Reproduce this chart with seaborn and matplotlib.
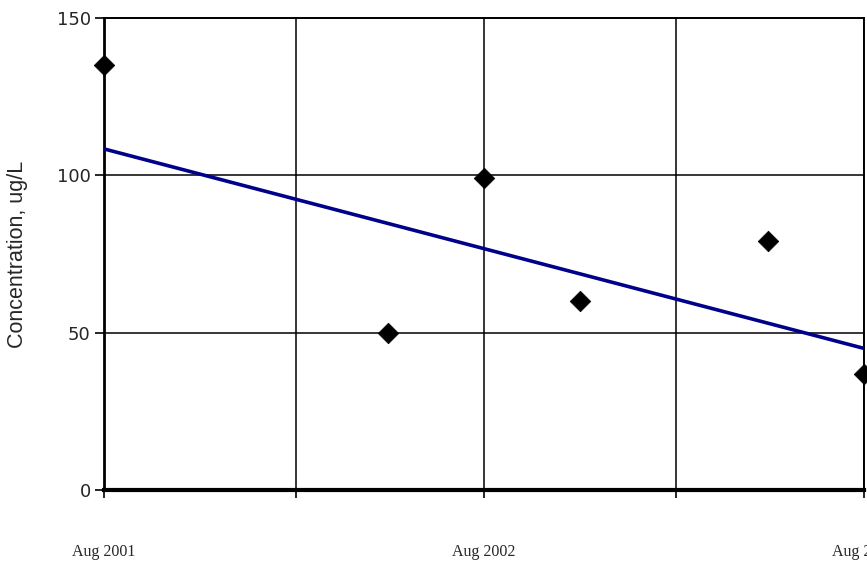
import matplotlib
matplotlib.use("Agg")
import matplotlib.pyplot as plt
import matplotlib.dates as mdates
import pandas as pd
import seaborn as sns

# Sample dates and measured concentrations (ug/L)
sample_dates = ["2001-08-01", "2002-05-01", "2002-08-01", "2002-11-01", "2003-05-01", "2003-08-01"]
concentration = [135, 50, 99, 60, 79, 37]

# Trend line end points
trend_dates = ["2001-08-01", "2003-08-01"]
trend_values = [108.4, 45.0]

# Axis ticks
x_ticks = ["2001-08-01", "2002-02-01", "2002-08-01", "2003-02-01", "2003-08-01"]
x_tick_labels = ["Aug 2001", "", "Aug 2002", "", "Aug 2003"]
y_ticks = [0, 50, 100, 150]

samples = pd.DataFrame({"date": pd.to_datetime(sample_dates), "conc": concentration})
trend = pd.DataFrame({"date": pd.to_datetime(trend_dates), "conc": trend_values})

sns.set_style("white")
fig = plt.figure(figsize=(8.67, 5.73), dpi=100)
ax = fig.add_axes([104 / 867, 1 - 490 / 573, 760 / 867, 472 / 573])

sns.lineplot(data=trend, x="date", y="conc", ax=ax, color="#00008B", linewidth=2.6, zorder=3)
sns.scatterplot(data=samples, x="date", y="conc", ax=ax, marker="D", s=110, color="black",
                edgecolor="black", linewidth=0.5, zorder=4, clip_on=False)

ax.set_xlim(pd.Timestamp(x_ticks[0]), pd.Timestamp(x_ticks[-1]))
ax.set_ylim(0, 150)
ax.set_xticks([mdates.date2num(pd.Timestamp(d)) for d in x_ticks])
ax.set_xticklabels(x_tick_labels, family="Liberation Serif", fontsize=11.5)
ax.set_yticks(y_ticks)
ax.set_yticklabels([str(v) for v in y_ticks], family="DejaVu Sans", fontsize=13)

ax.grid(True, color="black", linewidth=1.1)
ax.set_axisbelow(True)
ax.tick_params(axis="x", length=6, width=1.2, color="black", pad=33, direction="out", bottom=True)
ax.tick_params(axis="y", length=6.5, width=1.2, color="black", pad=3, direction="out", left=True)

for side in ["top", "right"]:
    ax.spines[side].set_visible(True)
    ax.spines[side].set_color("black")
    ax.spines[side].set_linewidth(1.4)
ax.spines["left"].set_color("black")
ax.spines["left"].set_linewidth(2.0)
ax.spines["bottom"].set_color("black")
ax.spines["bottom"].set_linewidth(3.0)

ax.set_xlabel("")
ax.set_ylabel("Concentration, ug/L", family="Liberation Sans", fontsize=15.5)
ax.yaxis.set_label_coords(-76 / 760, 0.5)

fig.savefig("out.png", dpi=100)
